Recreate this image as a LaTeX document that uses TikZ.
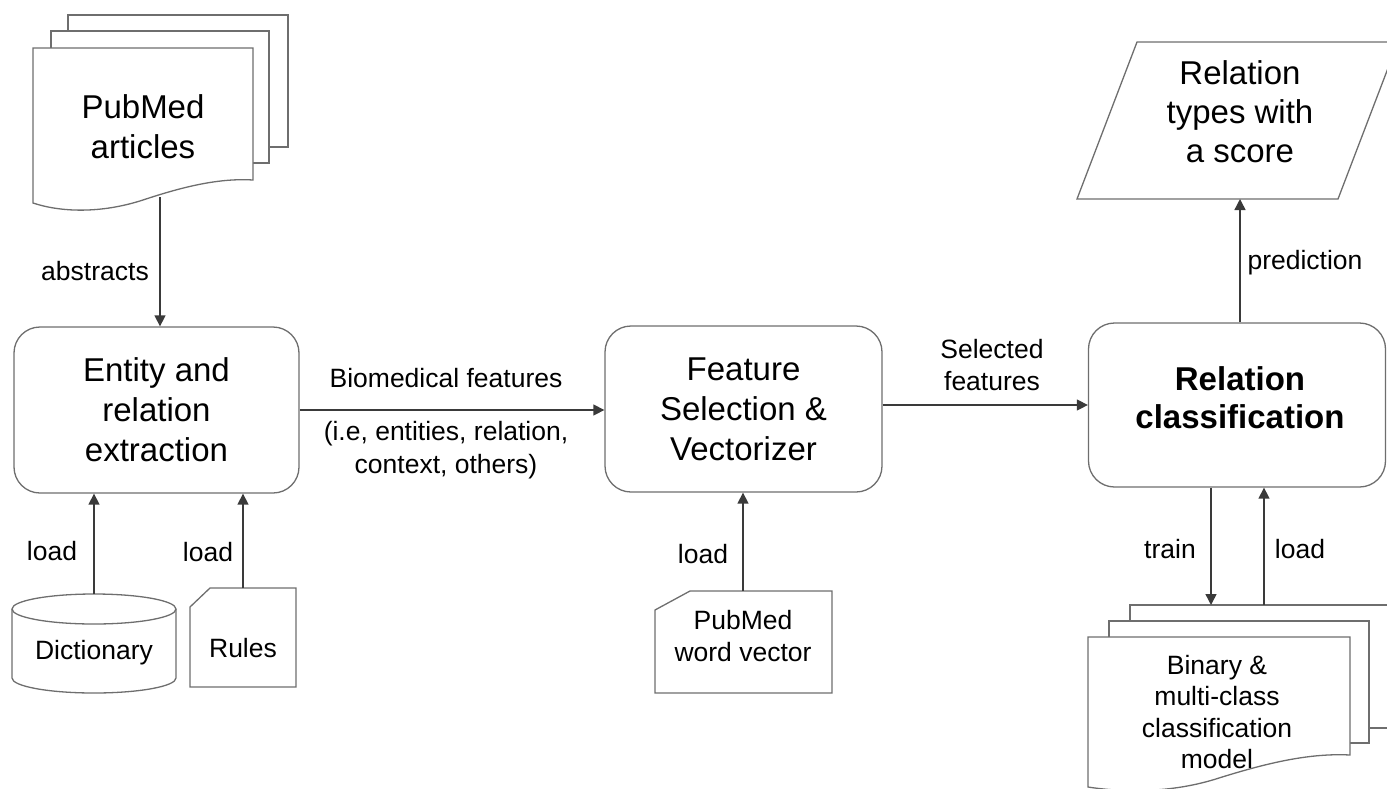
\documentclass[tikz,border=0pt]{standalone}
\usepackage{fontspec}
\setmainfont{Liberation Sans}
\usetikzlibrary{arrows.meta}
\definecolor{edgegray}{HTML}{6E6E6E}
\definecolor{linkgray}{HTML}{3A3A3A}

\tikzset{
  big/.style={font=\fontsize{33}{40}\selectfont, align=center, inner sep=0pt},
  bigbold/.style={font=\fontsize{33}{38}\selectfont\bfseries, align=center, inner sep=0pt},
  small/.style={font=\fontsize{26.5}{31.5}\selectfont, align=center, inner sep=0pt},
  proc/.style={draw=edgegray, line width=1.3pt, rounded corners=26pt, fill=white},
  shapeline/.style={draw=edgegray, line width=1.3pt, fill=white},
  arr/.style={draw=linkgray, line width=1.4pt, -{Triangle[length=11pt,width=11pt]}},
}

\begin{document}
\begin{tikzpicture}[x=1pt,y=-1pt]
\useasboundingbox (0,0) rectangle (1387,788);
\clip (0,0) rectangle (1387,788);

% ---- PubMed articles (stack of documents)
\path[shapeline] (68,15) rectangle (288,147);
\path[shapeline] (51,31) rectangle (269,163);
\path[shapeline] (33,48) -- (253,48) -- (253,180)
  .. controls (220,178) and (185,186) .. (143,200)
  .. controls (100,214) and (60,212) .. (33,203) -- cycle;
\node[big] (articles) at (143,127) {PubMed\\articles};
\coordinate (artbottom) at (160,197);

% ---- processing steps
\node[proc, minimum width=285pt, minimum height=166pt, big] (ent) at (156.5,410)
  {Entity and\\relation\\extraction};
\node[proc, minimum width=277pt, minimum height=166pt, big] (feat) at (743.5,409)
  {Feature\\Selection \&\\Vectorizer};
\node[proc, minimum width=297pt, minimum height=164pt] (relbox) at (1237,405) {};
\node[bigbold] (reltext) at (1240,398) {Relation\\classification};

% ---- output parallelogram
\path[shapeline] (1137,42) -- (1398,42) -- (1338,199) -- (1077,199) -- cycle;
\node[font=\fontsize{33}{39}\selectfont, align=center, inner sep=0pt] (result) at (1240,112)
  {Relation\\types with\\a score};
\coordinate (parabottom) at (1240,199);

% ---- Dictionary (cylinder)
\path[shapeline] (12,609) -- (12,678) arc[start angle=180, end angle=0, x radius=82, y radius=15]
  -- (176,609);
\path[shapeline] (94,609) ellipse[x radius=82, y radius=15];
\node[small] (dict) at (94,653) {Dictionary};
\coordinate (dicttop) at (94,594);

% ---- Rules (card)
\path[shapeline] (190,607) -- (210,588) -- (296,588) -- (296,687) -- (190,687) -- cycle;
\node[small] (rules) at (243,648) {Rules};
\coordinate (rulestop) at (243,588);

% ---- PubMed word vector (card)
\path[shapeline] (655,610) -- (690,591) -- (832,591) -- (832,693) -- (655,693) -- cycle;
\node[small] (wvec) at (743,636) {PubMed\\word vector};
\coordinate (wvectop) at (743,591);

% ---- classification models (stack of documents)
\path[shapeline] (1130,605) rectangle (1400,728);
\path[shapeline] (1109,621) rectangle (1369,743);
\path[shapeline] (1088,637) -- (1350,637) -- (1350,755)
  .. controls (1311,753) and (1270,762) .. (1219,778)
  .. controls (1170,794) and (1120,792) .. (1088,787) -- cycle;
\node[small] (model) at (1217,712) {Binary \&\\multi-class\\classification\\model};
\coordinate (traintip) at (1211,605);
\coordinate (loadfoot) at (1264,605);

% ---- connectors
\draw[arr] (artbottom) -- (artbottom |- ent.north);
\draw[arr] (dicttop) -- (dicttop |- ent.south);
\draw[arr] (rulestop) -- (rulestop |- ent.south);
\draw[arr] (wvectop) -- (wvectop |- feat.south);
\draw[arr] (ent.east) -- (ent.east -| feat.west);
\draw[arr] (feat.east |- relbox.west) -- (relbox.west);
\draw[arr] (parabottom |- relbox.north) -- (parabottom);
\draw[arr] (traintip |- relbox.south) -- (traintip);
\draw[arr] (loadfoot) -- (loadfoot |- relbox.south);

% ---- connector labels
\node[small] (abstracts) at (95,271) {abstracts};
\node[small] (bio) at (446,378) {Biomedical features};
\node[font=\fontsize{26.5}{33}\selectfont, align=center, inner sep=0pt] (bioeg) at (446,450)
  {(i.e, entities, relation,\\context, others)};
\node[small] (sel) at (992,365) {Selected\\features};
\node[small] (loaddict) at (52,551) {load};
\node[small] (loadrules) at (208,552) {load};
\node[small] (loadwvec) at (703,554) {load};
\node[small] (train) at (1170,549) {train};
\node[small] (loadmodel) at (1300,549) {load};
\node[small] (pred) at (1305,263) {prediction};
\end{tikzpicture}
\end{document}
